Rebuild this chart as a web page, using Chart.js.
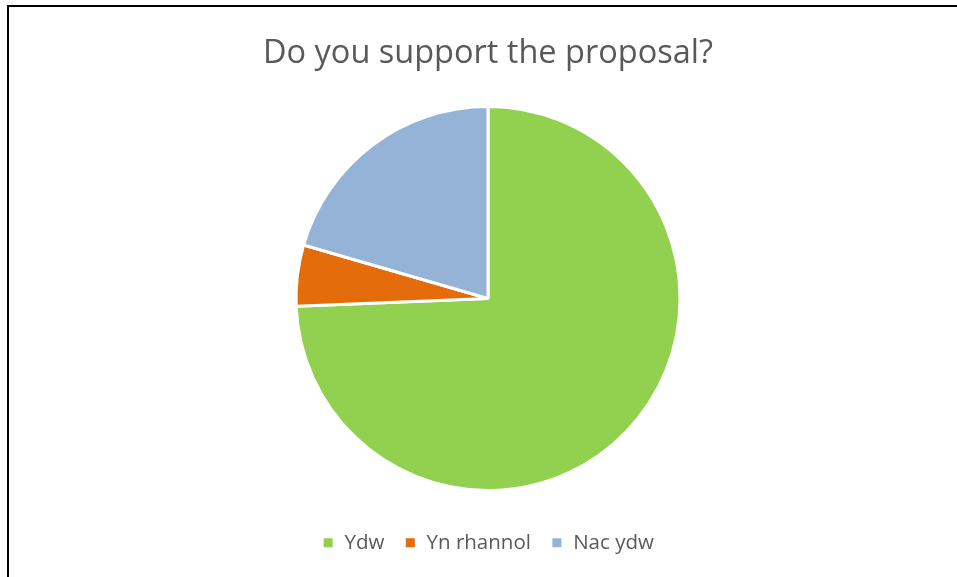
<!DOCTYPE html>
<html>
<head>
<meta charset="utf-8">
<script src="https://cdn.jsdelivr.net/npm/chart.js@4"></script>
<style>
  html, body { margin: 0; padding: 0; background: #fff; overflow: hidden; }
  #wrap { position: relative; width: 957px; height: 577px; }
  #frame { position: absolute; left: 7px; top: 5px; width: 1000px; height: 700px; border: 2px solid #000; box-sizing: border-box; pointer-events: none; }
  canvas { position: absolute; left: 0; top: 0; }
</style>
</head>
<body>
<div id="wrap">
  <canvas id="c" width="957" height="577"></canvas>
  <div id="frame"></div>
</div>
<script>
const chartTitle = "Do you support the proposal?";
const categories = ["Ydw", "Yn rhannol", "Nac ydw"];
const responses = [145, 10, 40];
const sliceColors = ["#92D050", "#E46C0A", "#95B3D7"];

new Chart(document.getElementById('c'), {
  type: 'pie',
  data: {
    labels: categories,
    datasets: [{
      data: responses,
      backgroundColor: sliceColors,
      borderColor: '#ffffff',
      borderWidth: 3
    }]
  },
  options: {
    responsive: false,
    animation: false,
    radius: 192,
    layout: { padding: { left: 19, right: 0, top: 0, bottom: 14 } },
    plugins: {
      tooltip: { enabled: false },
      title: {
        display: true,
        text: chartTitle,
        color: '#595959',
        font: { family: "'Open Sans', sans-serif", size: 32.5, weight: 'normal' },
        padding: { top: 34, bottom: 11.4 }
      },
      legend: {
        position: 'bottom',
        labels: {
          color: '#595959',
          font: { family: "'Open Sans', sans-serif", size: 20.5 },
          boxWidth: 12,
          boxHeight: 12,
          padding: 20
        }
      }
    }
  }
});
</script>
</body>
</html>
